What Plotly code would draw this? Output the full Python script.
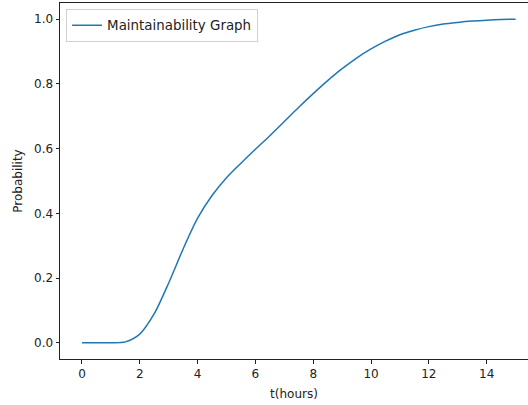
import plotly.graph_objects as go

t_hours = [0, 0.5, 1.0, 1.5, 2.0, 2.5, 3.0, 3.5, 4.0, 4.5, 5.0, 5.5, 6.0, 6.5, 7.0, 7.5,
           8.0, 8.5, 9.0, 9.5, 10.0, 10.5, 11.0, 11.5, 12.0, 12.5, 13.0, 13.5, 14.0, 14.5, 15.0]
probability = [0.0, 0.0, 0.0, 0.003, 0.027, 0.09, 0.185, 0.29, 0.385, 0.455, 0.51, 0.555,
               0.598, 0.64, 0.684, 0.728, 0.77, 0.81, 0.847, 0.88, 0.908, 0.932, 0.952, 0.966,
               0.977, 0.985, 0.99, 0.994, 0.997, 0.999, 1.0]
x_ticks = [0, 2, 4, 6, 8, 10, 12, 14]
y_ticks = [0.0, 0.2, 0.4, 0.6, 0.8, 1.0]
y_tick_labels = ["0.0", "0.2", "0.4", "0.6", "0.8", "1.0"]

FONT = "DejaVu Sans"

fig = go.Figure()
fig.add_trace(go.Scatter(
    x=t_hours, y=probability, mode="lines", name="Maintainability Graph",
    line=dict(color="#1f77b4", width=1.5, shape="spline", smoothing=0.8),
))

fig.update_layout(
    width=528, height=405,
    margin=dict(l=60, r=0, t=3, b=46),
    paper_bgcolor="white", plot_bgcolor="white",
    font=dict(family=FONT, size=12, color="#222"),
    showlegend=True,
    legend=dict(
        x=0.013, y=0.983, xanchor="left", yanchor="top",
        bgcolor="rgba(255,255,255,0.8)", bordercolor="#d0d0d0", borderwidth=1,
        font=dict(family=FONT, size=13.4, color="#222"),
        tracegroupgap=0, itemwidth=30,
    ),
    xaxis=dict(
        range=[-0.76, 15.43], tickmode="array", tickvals=x_ticks,
        showgrid=False, zeroline=False,
        showline=True, linecolor="#222", linewidth=1, mirror=True,
        ticks="outside", ticklen=3.5, tickwidth=0.8, tickcolor="#222",
        tickfont=dict(family=FONT, size=12, color="#222"),
        title=dict(text="t(hours)", font=dict(family=FONT, size=12, color="#222"), standoff=9),
    ),
    yaxis=dict(
        range=[-0.05, 1.05], tickmode="array", tickvals=y_ticks, ticktext=y_tick_labels,
        showgrid=False, zeroline=False,
        showline=True, linecolor="#222", linewidth=1, mirror=False,
        ticks="outside", ticklen=3.5, tickwidth=0.8, tickcolor="#222",
        tickfont=dict(family=FONT, size=12, color="#222"),
        title=dict(text="Probability", font=dict(family=FONT, size=12, color="#222"), standoff=8),
    ),
)

fig.write_html("out.html")
